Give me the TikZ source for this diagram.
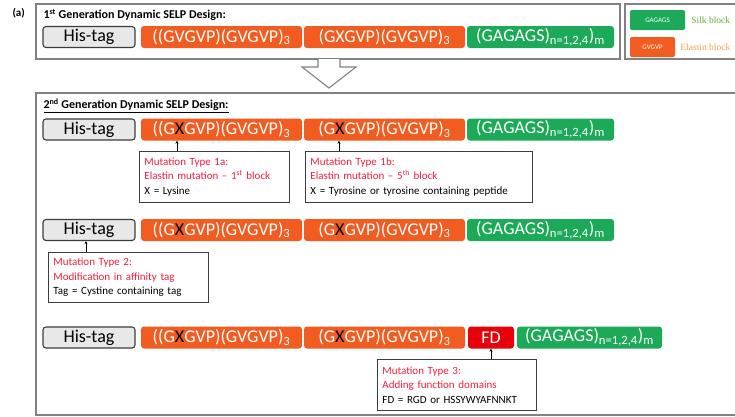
\documentclass[tikz,border=0pt]{standalone}
\usepackage{fontspec}
\setmainfont{Carlito}
\newfontfamily\legfont{Liberation Serif}
\usetikzlibrary{arrows.meta}
\definecolor{orng}{RGB}{242,92,32}
\definecolor{grn}{RGB}{28,170,88}
\definecolor{fdred}{RGB}{232,0,10}
\definecolor{cred}{RGB}{245,30,60}
\definecolor{frame}{RGB}{130,130,130}
\definecolor{tagfill}{RGB}{232,232,232}
\definecolor{tagdraw}{RGB}{60,60,60}
\definecolor{silkg}{RGB}{100,170,60}
\definecolor{elaso}{RGB}{245,160,80}
\begin{document}
\begin{tikzpicture}[x=1pt,y=-1pt,
  framebox/.style={draw=frame,line width=1.1pt},
  blk/.style={rounded corners=3pt,minimum height=22pt,inner sep=0pt,font=\fontsize{18}{18}\selectfont,text=white},
  tagbox/.style={blk,draw=tagdraw,fill=tagfill,line width=1.1pt,text=black,minimum height=21pt},
  elas/.style={blk,fill=orng},
  silk/.style={blk,fill=grn},
  fdbox/.style={blk,fill=fdred},
  callout/.style={draw=tagdraw,line width=0.9pt,anchor=north west,align=left,inner xsep=5pt,inner ysep=2pt,font=\fontsize{11}{14.5}\selectfont},
  arr/.style={-{Stealth[length=3pt,width=3pt]},line width=0.7pt},
  legbox/.style={rounded corners=2pt,minimum height=20pt,inner sep=0pt,text=white,font=\fontsize{7}{7}\selectfont},
  legtext/.style={anchor=west,inner sep=2pt,font=\legfont\fontsize{9.5}{9.5}\selectfont}]
\clip (0,0) rectangle (735,416);
\fill[white] (0,0) rectangle (735,416);

\node[anchor=west,font=\bfseries\fontsize{11}{11}\selectfont] (lbl) at (9,13) {(a)};

% first generation
\draw[framebox] (36,4) rectangle (620,59);
\node[anchor=west,font=\bfseries\fontsize{12}{12}\selectfont] (t1) at (40,15) {1\textsuperscript{st} Generation Dynamic SELP Design:};
\node[tagbox,minimum width=92pt] (h1) at (89,37) {His-tag};
\node[elas,minimum width=161pt] (o11) at (221.5,37) {((GVGVP)(GVGVP)\textsubscript{3}};
\node[elas,minimum width=161pt] (o12) at (384.5,37) {(GXGVP)(GVGVP)\textsubscript{3}};
\node[silk,minimum width=147pt] (g1) at (540.5,37) {(GAGAGS)\textsubscript{n=1,2,4})\textsubscript{m}};

% legend
\draw[framebox] (625,4) rectangle (760,59);
\node[legbox,fill=grn,minimum width=55pt] (lg) at (657.5,20) {GAGAGS};
\node[legbox,fill=orng,minimum width=45pt] (lo) at (652.5,47) {GVGVP};
\node[legtext,text=silkg] (ls) at ([xshift=4pt]lg.east) {Silk block};
\node[legtext,text=elaso] (le) at ([xshift=3pt]lo.east) {Elastin block};

% hollow down arrow
\draw[draw=frame,fill=white,line width=1.1pt] (318,59) -- (318,67) -- (302,67) -- (329,88) -- (356,67) -- (340,67) -- (340,59);

% second generation
\draw[framebox] (36,93) rectangle (760,415);
\node[anchor=west,font=\bfseries\fontsize{12}{12}\selectfont] (t2) at (40,106) {\underline{2\textsuperscript{nd} Generation Dynamic SELP Design:}};

% row 2
\node[tagbox,minimum width=92pt] (h2) at (89,129.5) {His-tag};
\node[elas,minimum width=161pt] (o21) at (221.5,129.5) {((G{\color{black}X}GVP)(GVGVP)\textsubscript{3}};
\node[elas,minimum width=161pt] (o22) at (384.5,129.5) {(G{\color{black}X}GVP)(GVGVP)\textsubscript{3}};
\node[silk,minimum width=147pt] (g2) at (540.5,129.5) {(GAGAGS)\textsubscript{n=1,2,4})\textsubscript{m}};

\node[callout,text width=140pt,minimum height=51pt] (c1a) at (139,151) {\textcolor{cred}{Mutation Type 1a:}\\\textcolor{cred}{Elastin mutation -- 1\textsuperscript{st} block}\\X = Lysine};
\node[callout,text width=217pt,minimum height=51pt] (c1b) at (305,151) {\textcolor{cred}{Mutation Type 1b:}\\\textcolor{cred}{Elastin mutation -- 5\textsuperscript{th} block}\\X = Tyrosine or tyrosine containing peptide};
\coordinate (x1) at (177,0);
\coordinate (x2) at (339,0);
\draw[arr] (c1a.north -| x1) -- (o21.south -| x1);
\draw[arr] (c1b.north -| x2) -- (o22.south -| x2);

% row 3
\node[tagbox,minimum width=92pt] (h3) at (89,230) {His-tag};
\node[elas,minimum width=161pt] (o31) at (221.5,230) {((G{\color{black}X}GVP)(GVGVP)\textsubscript{3}};
\node[elas,minimum width=161pt] (o32) at (384.5,230) {(G{\color{black}X}GVP)(GVGVP)\textsubscript{3}};
\node[silk,minimum width=147pt] (g3) at (540.5,230) {(GAGAGS)\textsubscript{n=1,2,4})\textsubscript{m}};
\node[callout,text width=150pt,minimum height=50pt] (c2) at (48,252) {\textcolor{cred}{Mutation Type 2:}\\\textcolor{cred}{Modification in affinity tag}\\Tag = Cystine containing tag};
\coordinate (x3) at (86,0);
\draw[arr] (c2.north -| x3) -- (h3.south -| x3);

% row 4
\node[tagbox,minimum width=92pt] (h4) at (89,337.5) {His-tag};
\node[elas,minimum width=161pt] (o41) at (221.5,337.5) {((G{\color{black}X}GVP)(GVGVP)\textsubscript{3}};
\node[elas,minimum width=161pt] (o42) at (384.5,337.5) {(G{\color{black}X}GVP)(GVGVP)\textsubscript{3}};
\node[fdbox,minimum width=46pt] (fd) at (491,337.5) {FD};
\node[silk,minimum width=145pt] (g4) at (589.5,337.5) {(GAGAGS)\textsubscript{n=1,2,4})\textsubscript{m}};
\node[callout,text width=149pt,minimum height=51pt] (c3) at (377,359) {\textcolor{cred}{Mutation Type 3:}\\\textcolor{cred}{Adding function domains}\\FD = RGD or HSSYWYAFNNKT};
\draw[arr] (c3.north -| fd) -- (fd.south);
\end{tikzpicture}
\end{document}
